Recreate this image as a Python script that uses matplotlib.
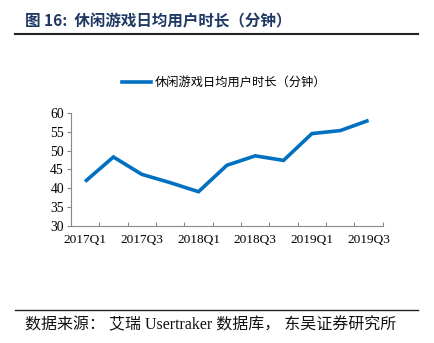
import matplotlib
matplotlib.use("Agg")
import matplotlib.pyplot as plt
from matplotlib.lines import Line2D

categories = ["2017Q1", "2017Q2", "2017Q3", "2017Q4", "2018Q1", "2018Q2",
              "2018Q3", "2018Q4", "2019Q1", "2019Q2", "2019Q3"]
values = [41.8, 48.3, 43.7, 41.5, 39.1, 46.1, 48.6, 47.4, 54.5, 55.3, 58.0]
series_name = "休闲游戏日均用户时长（分钟）"
title = "图 16:  休闲游戏日均用户时长（分钟）"
source = "数据来源： 艾瑞 Usertraker 数据库， 东吴证券研究所"

cjk = ["Noto Sans CJK SC", "DejaVu Sans"]
serif = ["Liberation Serif", "Noto Sans CJK SC"]

fig = plt.figure(figsize=(4.35, 3.43), dpi=100)
ax = fig.add_axes([0.163, 0.341, 0.717, 0.330])

x = list(range(len(categories)))
ax.plot(x, values, color="#0070C0", lw=2.6, solid_capstyle="butt", solid_joinstyle="miter")
ax.set_xlim(-0.5, len(categories) - 0.5)
ax.set_ylim(30, 60)
ax.set_yticks(range(30, 61, 5))
ax.set_xticks([i - 0.5 for i in range(len(categories) + 1)])
ax.set_xticklabels([])
ax.set_xticks(x[::2], minor=True)
ax.set_xticklabels(categories[::2], minor=True, fontfamily=serif, fontsize=9.6)
ax.tick_params(axis="x", which="major", direction="in", length=3, color="#888888")
ax.tick_params(axis="x", which="minor", length=0, pad=6)
ax.tick_params(axis="y", direction="out", length=3, color="#888888", pad=2)
for lab in ax.get_yticklabels():
    lab.set_fontfamily(serif)
    lab.set_fontsize(9.8)
for s in ["top", "right"]:
    ax.spines[s].set_visible(False)
for s in ["left", "bottom"]:
    ax.spines[s].set_color("#888888")
    ax.spines[s].set_linewidth(0.8)

leg = fig.legend(handles=[Line2D([], [], color="#0070C0", lw=2.6)], labels=[series_name],
                 loc="center", bbox_to_anchor=(0.515, 0.758), frameon=False,
                 handlelength=2.4, handletextpad=0.3,
                 prop={"family": cjk, "size": 8.8})

fig.text(0.057, 0.937, title, fontfamily=cjk, fontsize=11.2, fontweight="bold",
         color="#1F3864", va="center", ha="left")
fig.add_artist(Line2D([0.035, 0.962], [0.901, 0.901], color="#222222", lw=1.5))
fig.add_artist(Line2D([0.035, 0.962], [0.097, 0.097], color="#222222", lw=1.0))
fig.text(0.057, 0.052, source, fontfamily=serif + ["DejaVu Sans"], fontsize=11.5,
         color="#111111", va="center", ha="left")

fig.savefig("out.png", dpi=100)
